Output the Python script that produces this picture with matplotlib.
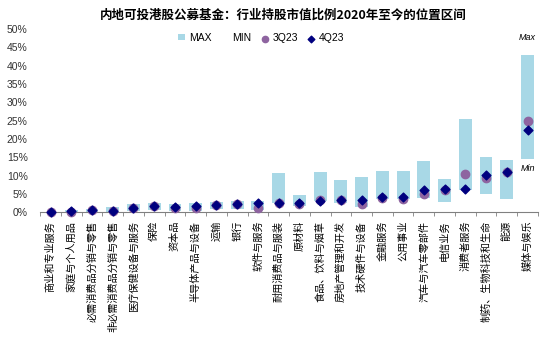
import matplotlib.pyplot as plt
import numpy as np

plt.rcParams['font.family'] = ['Noto Sans CJK SC', 'DejaVu Sans']

categories = [
    "商业和专业服务", "家庭与个人用品", "必需消费品分销与零售", "非必需消费品分销与零售",
    "医疗保健设备与服务", "保险", "资本品", "半导体产品与设备", "运输", "银行",
    "软件与服务", "耐用消费品与服装", "原材料", "食品、饮料与烟草", "房地产管理和开发",
    "技术硬件与设备", "金融服务", "公用事业", "汽车与汽车零部件", "电信业务",
    "消费者服务", "制药、生物科技和生命", "能源", "媒体与娱乐",
]
max_vals = [0.2, 0.5, 0.8, 1.4, 2.2, 2.5, 2.2, 2.6, 2.8, 3.2, 3.1, 10.6,
            4.8, 11.1, 8.7, 9.5, 11.4, 11.4, 14.0, 9.2, 25.5, 15.1, 14.3, 43.0]
min_vals = [0.0, 0.1, 0.2, 0.1, 0.3, 0.6, 0.45, 0.45, 0.8, 1.0, 0.6, 2.6,
            1.7, 3.1, 2.5, 1.5, 3.55, 3.6, 3.8, 2.8, 6.1, 4.9, 3.55, 14.6]
q3_23 = [0.0, 0.1, 0.5, 0.4, 1.1, 1.8, 1.1, 1.25, 1.9, 2.2, 1.25, 2.6,
         2.2, 3.45, 3.3, 2.2, 4.0, 3.6, 4.9, 6.1, 10.4, 9.4, 10.9, 25.0]
q4_23 = [0.0, 0.35, 0.55, 0.45, 1.2, 1.6, 1.45, 1.6, 1.9, 2.3, 2.6, 2.6,
         2.5, 3.2, 3.3, 3.3, 4.1, 4.3, 6.0, 6.4, 6.3, 10.3, 10.9, 22.5]

bar_color = "#A8D8E6"
purple = "#8E64A0"
navy = "#00007F"

fig = plt.figure(figsize=(5.5, 3.37), dpi=100)
ax = fig.add_axes([0.073, 0.370, 0.905, 0.544])

x = np.arange(len(categories))
lo = np.array(min_vals)
hi = np.array(max_vals)
ax.bar(x, lo, width=0.62, color="white", label="MIN", zorder=1)
ax.bar(x, hi - lo, bottom=lo, width=0.62, color=bar_color, label="MAX", zorder=1)
ax.scatter(x, q3_23, s=36, color=purple, marker="o", label="3Q23", zorder=3, clip_on=False)
ax.scatter(x, q4_23, s=20, color=navy, marker="D", label="4Q23", zorder=4, clip_on=False)

ax.annotate("Max", (x[-1], max_vals[-1]), xytext=(0, 9), textcoords="offset points",
            ha="center", va="bottom", fontsize=6.5, style="italic", family="Liberation Sans")
ax.annotate("Min", (x[-1], min_vals[-1]), xytext=(0, -4), textcoords="offset points",
            ha="center", va="top", fontsize=6.5, style="italic", family="Liberation Sans")

ax.set_xlim(-0.5, len(categories) - 0.5)
ax.set_ylim(0, 50)
ax.set_yticks(np.arange(0, 51, 5))
ax.set_yticklabels([f"{v}%" for v in range(0, 51, 5)], family="Liberation Sans",
                   fontsize=7.5, color="#333333")
ax.tick_params(axis="y", length=0, pad=9)

ax.set_xticks(x)
ax.set_xticklabels(categories, rotation=90, fontsize=7.3, va="top")
ax.set_xticks(np.arange(-0.5, len(categories), 1), minor=True)
ax.tick_params(axis="x", which="major", length=0, pad=6)
ax.tick_params(axis="x", which="minor", length=3, color="#808080", direction="out")

for side in ["top", "right", "left"]:
    ax.spines[side].set_visible(False)
ax.spines["bottom"].set_color("#808080")

handles, labels = ax.get_legend_handles_labels()
order = [labels.index(k) for k in ["MAX", "MIN", "3Q23", "4Q23"]]
leg = fig.legend([handles[i] for i in order], [labels[i] for i in order],
                 loc="center", bbox_to_anchor=(0.475, 0.888), ncol=4, frameon=False,
                 prop={"family": "Liberation Sans", "size": 7.5},
                 handlelength=0.6, handleheight=0.5, handletextpad=0.4,
                 columnspacing=1.0, markerscale=0.75)

fig.suptitle("内地可投港股公募基金：行业持股市值比例2020年至今的位置区间",
             x=0.515, y=0.975, fontsize=9, fontweight="bold")

fig.savefig("out.png", dpi=100)
